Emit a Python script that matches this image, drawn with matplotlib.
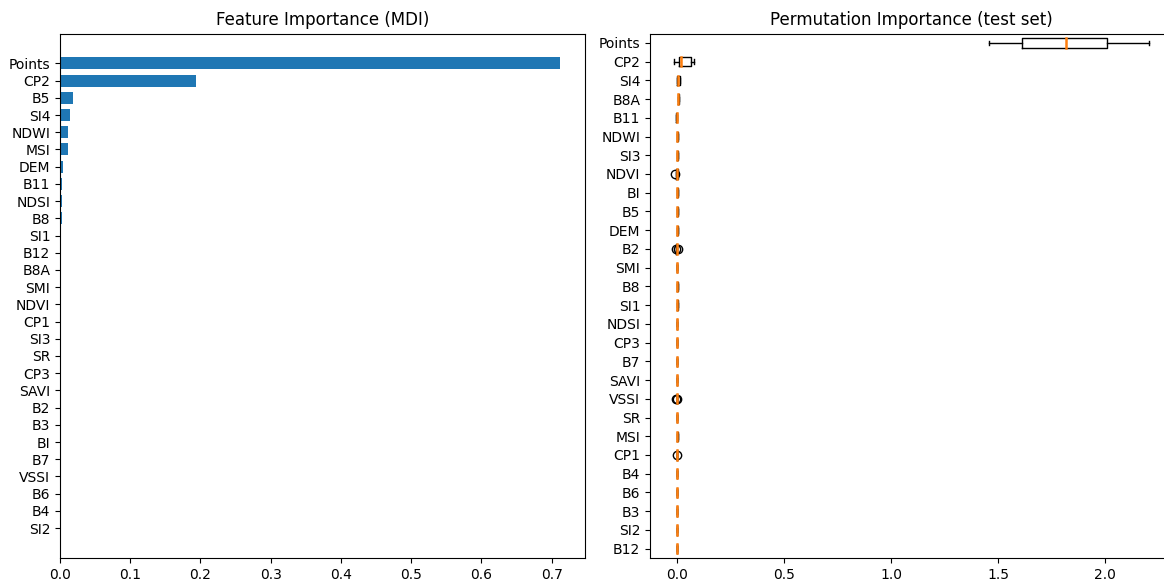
import numpy as np
import matplotlib
matplotlib.use("Agg")
import matplotlib.pyplot as plt

# Feature importance (MDI), sorted ascending (bottom -> top)
mdi_features = ["SI2", "B4", "B6", "VSSI", "B7", "BI", "B3", "B2", "SAVI", "CP3",
                "SR", "SI3", "CP1", "NDVI", "SMI", "B8A", "B12", "SI1", "B8", "NDSI",
                "B11", "DEM", "MSI", "NDWI", "SI4", "B5", "CP2", "Points"]
mdi_values = [0.00002, 0.00003, 0.00005, 0.0001, 0.0001, 0.0001, 0.0002, 0.0002, 0.0003, 0.0003,
              0.0004, 0.0005, 0.0006, 0.0007, 0.0008, 0.0009, 0.001, 0.0012, 0.0026, 0.0028,
              0.003, 0.0047, 0.0113, 0.0114, 0.0147, 0.018, 0.194, 0.712]

# Permutation importance (test set), box statistics (bottom -> top)
perm_features = ["B12", "SI2", "B3", "B6", "B4", "CP1", "MSI", "SR", "VSSI", "SAVI",
                 "B7", "CP3", "NDSI", "SI1", "B8", "SMI", "B2", "DEM", "B5", "BI",
                 "NDVI", "SI3", "NDWI", "B11", "B8A", "SI4", "CP2", "Points"]
perm_med = [0.0, 0.0, 0.0, 0.0, 0.0, 0.0, 0.002, 0.0, 0.0, 0.0,
            0.0, 0.0, 0.0, 0.002, 0.002, 0.0, 0.0, 0.002, 0.003, 0.003,
            0.001, 0.002, 0.003, 0.0, 0.007, 0.008, 0.022, 1.818]
perm_q1 = [0.0, 0.0, 0.0, 0.0, 0.0, 0.0, 0.0, 0.0, 0.0, 0.0,
           0.0, 0.0, 0.0, 0.0, 0.0, 0.0, -0.002, 0.0, 0.0, 0.0,
           -0.002, 0.0, 0.0, -0.002, 0.005, 0.003, 0.012, 1.612]
perm_q3 = [0.0, 0.0, 0.0, 0.0, 0.0, 0.0, 0.004, 0.0, 0.0, 0.0,
           0.0, 0.0, 0.0, 0.004, 0.004, 0.0, 0.002, 0.004, 0.006, 0.006,
           0.004, 0.004, 0.006, 0.002, 0.009, 0.013, 0.065, 2.009]
perm_whislo = [0.0, 0.0, 0.0, 0.0, 0.0, 0.0, 0.0, 0.0, 0.0, 0.0,
               0.0, 0.0, 0.0, 0.0, 0.0, 0.0, -0.003, 0.0, 0.0, 0.0,
               -0.003, 0.0, -0.001, -0.003, 0.004, 0.002, -0.014, 1.458]
perm_whishi = [0.0, 0.0, 0.0, 0.0, 0.0, 0.0, 0.005, 0.0, 0.0, 0.0,
               0.0, 0.0, 0.0, 0.005, 0.005, 0.0, 0.003, 0.005, 0.007, 0.007,
               0.005, 0.005, 0.007, 0.003, 0.010, 0.015, 0.080, 2.206]
perm_fliers = [[], [], [], [], [], [-0.001], [], [], [-0.003, 0.003], [],
               [], [], [], [], [], [], [-0.005, 0.005], [], [], [],
               [-0.008], [], [], [], [], [], [], []]

fig = plt.figure(figsize=(11.64, 5.81), dpi=100)
ax1 = fig.add_axes([60 / 1164, 1 - 558 / 581, 525 / 1164, 524.5 / 581])
ax2 = fig.add_axes([650 / 1164, 1 - 558 / 581, 523 / 1164, 524.5 / 581])

idx = np.arange(len(mdi_features))
ax1.barh(idx, mdi_values, height=0.7)
ax1.set_yticks(idx)
ax1.set_yticklabels(mdi_features)
ax1.set_title("Feature Importance (MDI)")

stats = []
for i, name in enumerate(perm_features):
    stats.append({"label": name, "med": perm_med[i], "q1": perm_q1[i], "q3": perm_q3[i],
                  "whislo": perm_whislo[i], "whishi": perm_whishi[i],
                  "fliers": perm_fliers[i]})
ax2.bxp(stats, orientation="horizontal",
        medianprops={"color": "C1", "linewidth": 1.8, "zorder": 5,
                     "solid_capstyle": "projecting"})
ax2.set_ylim(0.5, len(perm_features) + 0.5)
ax2.set_title("Permutation Importance (test set)")

fig.savefig("out.png")
